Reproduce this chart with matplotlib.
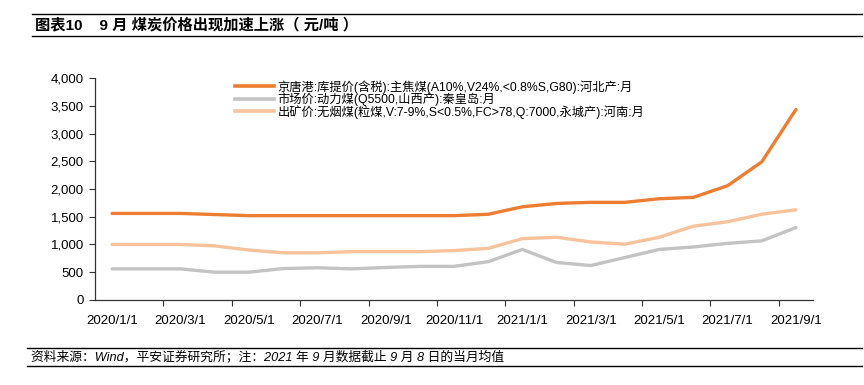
import matplotlib
matplotlib.use("Agg")
import matplotlib.pyplot as plt
from matplotlib.lines import Line2D

plt.rcParams['font.family'] = ['Liberation Sans', 'Noto Sans CJK SC', 'DejaVu Sans']

months = ["2020/1/1", "2020/2/1", "2020/3/1", "2020/4/1", "2020/5/1", "2020/6/1", "2020/7/1",
          "2020/8/1", "2020/9/1", "2020/10/1", "2020/11/1", "2020/12/1", "2021/1/1", "2021/2/1",
          "2021/3/1", "2021/4/1", "2021/5/1", "2021/6/1", "2021/7/1", "2021/8/1", "2021/9/1"]

jingtang = [1560, 1560, 1560, 1540, 1520, 1520, 1520, 1520, 1520, 1520, 1520, 1545,
            1680, 1740, 1760, 1760, 1825, 1850, 2060, 2490, 3435]
market = [560, 560, 560, 500, 500, 565, 580, 560, 585, 605, 605, 690,
          910, 675, 620, 765, 910, 955, 1020, 1065, 1305]
mine = [1000, 1000, 1000, 975, 900, 850, 850, 870, 870, 870, 890, 930,
        1105, 1130, 1045, 1005, 1130, 1330, 1410, 1545, 1625]

labels = ["京唐港:库提价(含税):主焦煤(A10%,V24%,<0.8%S,G80):河北产:月",
          "市场价:动力煤(Q5500,山西产):秦皇岛:月",
          "出矿价:无烟煤(粒煤,V:7-9%,S<0.5%,FC>78,Q:7000,永城产):河南:月"]
colors = ["#ED7D31", "#C3C3C3", "#F8C39C"]
series = [jingtang, market, mine]

yticks = [0, 500, 1000, 1500, 2000, 2500, 3000, 3500, 4000]

fig = plt.figure(figsize=(8.64, 3.85), dpi=100)
ax = fig.add_axes([0.110, 0.221, 0.831, 0.576])

x = list(range(len(months)))
for s, c, lab in zip(series, colors, labels):
    ax.plot(x, s, color=c, lw=2.4, label=lab, solid_capstyle='round', solid_joinstyle='round')

ax.set_xlim(-0.5, len(months) - 0.5)
ax.set_ylim(0, 4000)
ax.set_yticks(yticks)
ax.set_yticklabels([f"{v:,}" for v in yticks], fontsize=9.5)
ax.set_xticks(x[::2])
ax.set_xticklabels(months[::2], fontsize=9.5)
ax.set_xticks([i + 1.5 for i in range(0, len(months) - 1, 2)], minor=True)
ax.tick_params(axis='x', which='major', length=0, pad=11)
ax.tick_params(axis='x', which='minor', length=4, width=0.8, color='#333333')
ax.tick_params(axis='y', length=4, width=0.8, color='#333333', pad=4)
for sp in ['top', 'right']:
    ax.spines[sp].set_visible(False)
for sp in ['left', 'bottom']:
    ax.spines[sp].set_color('#333333')
    ax.spines[sp].set_linewidth(0.9)

handles = [Line2D([0], [0], color=c, lw=2.6) for c in colors]
leg = ax.legend(handles, labels, loc='upper left', bbox_to_anchor=(0.192, 1.0),
                frameon=False, fontsize=8.8, handlelength=3.2, handletextpad=0.3,
                labelspacing=-0.1, borderaxespad=0.0, borderpad=0.15)

# title with rules
fig.add_artist(Line2D([32/864, 862/864], [1 - 14/385, 1 - 14/385], color='black', lw=1.0))
fig.add_artist(Line2D([32/864, 862/864], [1 - 36/385, 1 - 36/385], color='black', lw=1.0))
fig.text(35/864, 1 - 25/385, "图表10    9 月 煤炭价格出现加速上涨（ 元/吨 ）",
         fontsize=11, fontweight='bold', va='center', ha='left')

# footer with rules
fig.add_artist(Line2D([27/864, 862/864], [1 - 348/385, 1 - 348/385], color='black', lw=1.0))
fig.add_artist(Line2D([27/864, 862/864], [1 - 366/385, 1 - 366/385], color='black', lw=1.0))
fig.text(31/864, 1 - 357/385, "资料来源：Wind，平安证券研究所；注：2021 年 9 月数据截止 9 月 8 日的当月均值",
         fontsize=9.2, style='italic', va='center', ha='left')

fig.savefig("out.png", dpi=100)
